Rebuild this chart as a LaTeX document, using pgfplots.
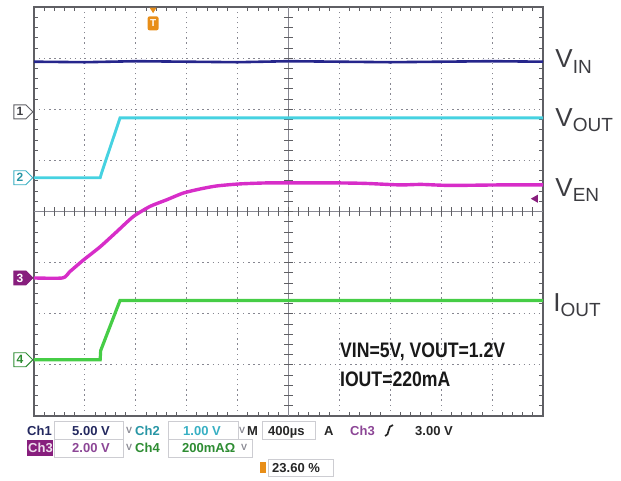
\documentclass[border=0pt]{standalone}
\usepackage{pgfplots}
\pgfplotsset{compat=1.18}
\usepackage{fontspec}
\setmainfont{Liberation Sans}
\usetikzlibrary{shapes.symbols}
\definecolor{cvin}{RGB}{38,38,140}
\definecolor{cvout}{RGB}{70,210,225}
\definecolor{cven}{RGB}{215,45,200}
\definecolor{ciout}{RGB}{70,205,70}
\definecolor{framec}{RGB}{95,95,100}
\definecolor{gridc}{RGB}{135,135,145}
\definecolor{labc}{RGB}{60,60,65}
\definecolor{ch3p}{RGB}{135,30,125}
\definecolor{tek}{RGB}{232,142,24}
\definecolor{boxc}{RGB}{205,205,210}
\definecolor{navyt}{RGB}{35,40,95}
\definecolor{tealt}{RGB}{40,150,165}
\definecolor{cyant}{RGB}{55,175,195}
\definecolor{purpt}{RGB}{140,70,150}
\definecolor{greent}{RGB}{45,140,50}
\begin{document}
\begin{tikzpicture}[x=1pt,y=1pt]
\useasboundingbox (-34,-64) rectangle (587,416);
\begin{axis}[
  at={(0,0)}, anchor=south west,
  scale only axis, width=509pt, height=409pt,
  xmin=0, xmax=10, ymin=0, ymax=8,
  xtick={0,...,10}, ytick={0,...,8},
  xticklabels={}, yticklabels={},
  grid=major,
  major grid style={draw=gridc, line width=1pt, dash pattern=on 1.3pt off 3.8pt},
  major tick length=0pt,
  minor x tick num=4, minor y tick num=4,
  minor tick length=4pt,
  tick style={draw=framec, line width=0.8pt},
  tick align=inside,
  axis line style={draw=framec, line width=1.8pt},
  clip=false,
]
% centre graticule lines with small ticks
\draw[gridc, line width=0.8pt] (axis cs:5,0) -- (axis cs:5,8);
\draw[gridc, line width=0.8pt] (axis cs:0,4) -- (axis cs:10,4);
\pgfplotsinvokeforeach{1,...,49}{\draw[framec, line width=0.8pt] (axis cs:#1/5,3.92) -- (axis cs:#1/5,4.08);}
\pgfplotsinvokeforeach{1,...,39}{\draw[framec, line width=0.8pt] (axis cs:4.92,#1/5) -- (axis cs:5.08,#1/5);}

% V_IN
\addplot[cvin, line width=2.6pt] coordinates {(0,6.93) (1,6.92) (2,6.94) (3,6.93) (4,6.92) (5,6.94) (6,6.93) (7,6.92) (8,6.93) (9,6.94) (10,6.93)};
% V_OUT
\addplot[cvout, line width=2.9pt] coordinates {(0,4.66) (1.30,4.66) (1.33,4.76) (1.69,5.83) (10,5.83)};
% V_EN
\addplot[cven, line width=3.4pt, smooth, tension=0.4] coordinates {(0,2.70) (0.56,2.70) (0.70,2.82) (0.97,3.05) (1.30,3.31) (1.62,3.60) (1.95,3.90) (2.28,4.10) (2.61,4.23) (2.93,4.36) (3.26,4.44) (3.59,4.50) (4.05,4.54) (4.6,4.56) (5.01,4.56) (5.87,4.56) (6.5,4.55) (7.19,4.52) (7.6,4.53) (8.17,4.51) (9.16,4.52) (10,4.52)};
% I_OUT
\addplot[ciout, line width=3.2pt] coordinates {(0,1.10) (1.30,1.10) (1.31,1.28) (1.69,2.26) (10,2.26)};

% channel markers
\tikzset{chmark/.style={signal, signal to=east, line width=0.9pt, minimum width=19pt, minimum height=14pt, inner sep=1pt, anchor=east, font=\fontsize{12}{12}\selectfont\bfseries}}
\node[chmark, draw=framec, fill=white, text=labc] at (axis cs:-0.01,5.95) {1};
\node[chmark, draw=cyant, fill=white, text=tealt] at (axis cs:-0.01,4.66) {2};
\node[chmark, draw=ch3p, fill=ch3p, text=white] at (axis cs:-0.01,2.70) {3};
\node[chmark, draw=greent, fill=white, text=greent] at (axis cs:-0.01,1.10) {4};

% trigger markers
\fill[tek] (axis cs:2.27,7.99) -- (axis cs:2.41,7.99) -- (axis cs:2.34,7.88) -- cycle;
\node[fill=tek, text=white, rounded corners=2pt, inner sep=1pt, minimum width=11pt, minimum height=14pt, font=\fontsize{10}{10}\selectfont\bfseries] at (axis cs:2.34,7.68) {T};
\fill[ch3p] (axis cs:9.76,4.25) -- (axis cs:9.90,4.33) -- (axis cs:9.90,4.17) -- cycle;

% trace labels
\node[anchor=base west, text=labc, inner sep=0] at (axis cs:10.24,6.81) {\fontsize{26}{26}\selectfont V\raisebox{-6pt}{\fontsize{19}{19}\selectfont IN}};
\node[anchor=base west, text=labc, inner sep=0] at (axis cs:10.24,5.66) {\fontsize{26}{26}\selectfont V\raisebox{-5pt}{\fontsize{19}{19}\selectfont OUT}};
\node[anchor=base west, text=labc, inner sep=0] at (axis cs:10.24,4.29) {\fontsize{26}{26}\selectfont V\raisebox{-5pt}{\fontsize{19}{19}\selectfont EN}};
\node[anchor=base west, text=labc, inner sep=0] at (axis cs:10.20,2.04) {\fontsize{26}{26}\selectfont I\raisebox{-5pt}{\fontsize{19}{19}\selectfont OUT}};

% condition text
\node[anchor=base west, inner sep=0, text=black!90] at (axis cs:6.01,1.135) {\scalebox{0.84}[1]{\fontsize{21}{21}\selectfont\bfseries VIN=5V, VOUT=1.2V}};
\node[anchor=base west, inner sep=0, text=black!90] at (axis cs:6.01,0.57) {\scalebox{0.84}[1]{\fontsize{21}{21}\selectfont\bfseries IOUT=220mA}};
\end{axis}

% status bar
\begin{scope}[every node/.style={anchor=base west, inner sep=0, font=\fontsize{13}{13}\selectfont\bfseries}]
\draw[boxc, line width=0.8pt] (20,-5) rectangle (89,-23);
\draw[boxc, line width=0.8pt] (134,-5) rectangle (204,-23);
\draw[boxc, line width=0.8pt] (228,-5) rectangle (281,-23);
\draw[boxc, line width=0.8pt] (20,-23) rectangle (89,-41);
\draw[boxc, line width=0.8pt] (134,-23) rectangle (218,-41);
\draw[boxc, line width=0.8pt] (234,-43) rectangle (299,-60);
\node[text=navyt] at (-7,-19) {Ch1};
\node[text=navyt] at (38,-19) {5.00 V};
\node[text=gridc] at (92,-17) {\fontsize{9}{9}\selectfont V};
\node[text=tealt] at (101,-19) {Ch2};
\node[text=cyant] at (149,-19) {1.00 V};
\node[text=gridc] at (205,-17) {\fontsize{9}{9}\selectfont V};
\node[text=black!85] at (213,-19) {M};
\node[text=black!85] at (234,-19) {400µs};
\node[text=black!85] at (290,-19) {A};
\node[text=purpt] at (316,-19) {Ch3};
\draw[black!85, line width=1.7pt] (351,-20) .. controls (356,-20) and (353,-9) .. (359,-9);
\node[text=black!85] at (381,-19) {3.00 V};
\fill[ch3p] (-7,-24) rectangle (19,-40);
\node[text=white!85!ch3p] at (-6,-36) {Ch3};
\node[text=purpt] at (38,-36) {2.00 V};
\node[text=gridc] at (92,-34) {\fontsize{9}{9}\selectfont V};
\node[text=greent] at (101,-36) {Ch4};
\node[text=greent] at (148,-36) {200mAΩ};
\node[text=gridc] at (207,-34) {\fontsize{9}{9}\selectfont V};
\fill[tek] (226,-46) rectangle (232,-57);
\node[text=black!85] at (238,-56) {23.60 \%};
\end{scope}
\end{tikzpicture}
\end{document}
